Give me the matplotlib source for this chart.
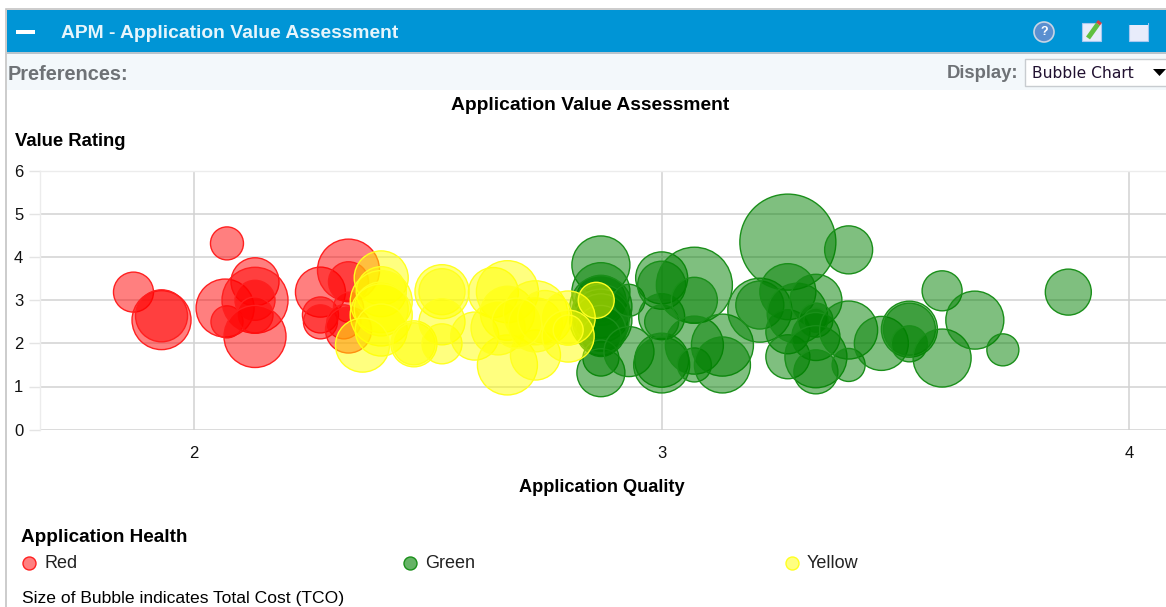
import matplotlib
matplotlib.use("Agg")
import matplotlib.pyplot as plt
from matplotlib.patches import Rectangle, Circle, Polygon

plt.rcParams['font.family'] = ['Liberation Sans', 'DejaVu Sans']

# datos: calidad, valor, tamano (coste total)
red_x = [1.87, 1.93, 1.93, 2.07, 2.066, 2.07, 2.13, 2.13, 2.13, 2.13, 2.13,
         2.27, 2.27, 2.27, 2.33, 2.33, 2.33, 2.32, 2.33]
red_y = [3.19, 2.54, 2.64, 4.32, 2.82, 2.5, 3.43, 3.0, 3.0, 2.66, 2.16,
         3.19, 2.66, 2.5, 3.7, 3.43, 2.84, 2.5, 2.31]
red_size = [20, 29.5, 26, 16.5, 29, 16, 24, 33, 20, 18, 31,
            25, 18, 17, 31, 20, 15, 17, 23]

green_x = [2.87, 2.87, 2.87, 2.87, 2.87, 2.87, 2.87, 2.87, 2.87, 2.87, 2.87,
           2.93, 2.93,
           3.0, 3.0, 3.0, 3.0, 3.0, 3.0, 3.07, 3.07, 3.07, 3.07,
           3.13, 3.13, 3.21, 3.21, 3.27, 3.27, 3.27, 3.27, 3.29,
           3.33, 3.33, 3.33, 3.33, 3.33, 3.33, 3.40, 3.40, 3.40, 3.47,
           3.53, 3.53, 3.53, 3.6, 3.6, 3.67, 3.73, 3.87]
green_y = [3.82, 3.2, 3.0, 2.85, 2.7, 2.54, 2.5, 2.3, 2.16, 1.66, 1.32,
           3.0, 1.81,
           3.52, 3.35, 2.62, 2.5, 1.61, 1.5, 3.35, 3.0, 1.96, 1.5,
           1.96, 1.5, 2.77, 2.89, 4.35, 3.2, 2.27, 1.69, 2.7,
           3.0, 2.54, 2.54, 2.16, 1.69, 1.34, 4.17, 2.31, 1.5, 2.0,
           2.33, 2.33, 1.99, 1.66, 3.22, 2.54, 1.85, 3.19]
green_size = [29, 29, 25, 31, 29, 31, 28, 25, 20, 18, 24,
              16, 25,
              26, 24, 23, 17, 27, 28, 38, 23, 29, 17,
              31, 28, 32, 24, 48, 28, 22, 22, 30,
              26, 17, 12, 24, 31, 22, 24, 29, 16.5, 27,
              28, 26, 18, 29, 20, 29, 16, 23]

yellow_x = [2.40, 2.40, 2.40, 2.40, 2.40, 2.40, 2.36, 2.47, 2.47, 2.53, 2.53, 2.53, 2.53,
            2.6, 2.64, 2.67, 2.67, 2.67, 2.65, 2.73, 2.73, 2.73, 2.75, 2.69, 2.8, 2.8, 2.8, 2.86]
yellow_y = [3.52, 3.2, 2.97, 2.8, 2.66, 2.31, 1.96, 1.99, 1.99, 3.2, 3.2, 2.5, 1.99,
            2.17, 3.18, 3.2, 2.7, 1.5, 2.36, 1.73, 2.71, 2.43, 2.6, 2.47, 2.59, 2.17, 2.31, 3.0]
yellow_size = [27, 25, 31, 27, 31, 26, 27, 23, 21, 27, 23, 23, 20,
               24, 25, 31, 27, 30, 27, 25, 32, 27, 27, 25, 27, 26, 15, 18]

x_ticks = [2, 3, 4]
y_ticks = [0, 1, 2, 3, 4, 5, 6]
legend_labels = ['Red', 'Green', 'Yellow']


# radio en pixeles a area de scatter en puntos^2
def area(radios):
    return [(2 * r * 0.72) ** 2 for r in radios]


fig = plt.figure(figsize=(11.66, 6.07), dpi=100, facecolor='white')

# marco de la pagina en coordenadas de pixel
page = fig.add_axes([0, 0, 1, 1], zorder=0)
page.set_xlim(0, 1166)
page.set_ylim(607, 0)
page.axis('off')
page.add_patch(Rectangle((6, 9), 1162, 600, fc='white', ec='#c4c4c4', lw=1.2))
page.add_patch(Rectangle((7, 10), 1159, 43, fc='#0095d6', ec='none'))
page.add_patch(Rectangle((7, 52), 1159, 1.5, fc='#b8c4cc', ec='none'))
page.add_patch(Rectangle((7, 54), 1159, 36, fc='#f3f8fb', ec='none'))
page.add_patch(Rectangle((16, 29.5), 19, 4.5, fc='white', ec='none'))
page.text(61, 33, 'APM - Application Value Assessment', color='#e6f5fc', fontsize=13.9,
          fontweight='bold', va='center')
page.text(8, 74, 'Preferences:', color='#6e7276', fontsize=14.4, fontweight='bold', va='center')
page.text(1018, 74, 'Display:', color='#6e7276', fontsize=13.3, fontweight='bold', va='center', ha='right')
page.add_patch(Rectangle((1025, 58.5), 143, 27, fc='white', ec='#c8ccd0', lw=1))
page.text(1032, 73, 'Bubble Chart', color='#201030', fontsize=11.2, va='center', family='DejaVu Sans')
page.add_patch(Polygon([(1153, 69), (1166, 69), (1159.5, 76)], fc='black', ec='none'))

# iconos de la barra
page.add_patch(Circle((1044, 32), 10, fc='#5a8fd0', ec='#c8d4e4', lw=1.2))
page.text(1044, 32, '?', color='white', fontsize=9, fontweight='bold', ha='center', va='center')
page.add_patch(Rectangle((1082, 23), 19, 18, fc='#e8ecfb', ec='#a8c8f0', lw=0.8))
page.plot([1088, 1098], [38, 24], color='#60c040', lw=3.5, solid_capstyle='butt')
page.plot([1098, 1100], [24, 21.5], color='#d84040', lw=3.5, solid_capstyle='butt')
page.add_patch(Rectangle((1129, 23), 19, 18, fc='#e8ecfb', ec='#a8c8f0', lw=0.8))
page.add_patch(Rectangle((1129, 22), 19, 3, fc='#0095d6', ec='none'))

# textos del grafico
page.text(590, 106, 'Application Value Assessment', fontsize=13.9, fontweight='bold', ha='center', va='center')
page.text(15, 142, 'Value Rating', fontsize=13.3, fontweight='bold', va='center')
page.text(602, 488, 'Application Quality', fontsize=13.1, fontweight='bold', ha='center', va='center')
page.text(21, 537, 'Application Health', fontsize=13.6, fontweight='bold', va='center')
page.text(22, 598, 'Size of Bubble indicates Total Cost (TCO)', fontsize=12.6, va='center')

# leyenda
legend_colors = [('#ff2020', '#ff8080'), ('#1a8f1a', '#66b366'), ('#ffff20', '#ffff80')]
for lab, lx, (edge, fill) in zip(legend_labels, [29, 410, 792], legend_colors):
    page.scatter([lx], [563], s=area([6.5]), color=fill, edgecolors=edge, linewidths=1.0)
    page.text(lx + 15, 564, lab, fontsize=13, color='#222222', va='center')

# area del grafico
ax = fig.add_axes([40 / 1166, (607 - 429.6) / 607, (1166 - 40) / 1166, 258.6 / 607], zorder=1)
ax.patch.set_alpha(0)
ax.set_xlim(1.67, 4.079)
ax.set_ylim(0, 6)
ax.set_xticks(x_ticks)
ax.set_yticks(y_ticks)
ax.tick_params(length=0, labelsize=12, colors='#111111')
ax.tick_params(axis='x', pad=12)
ax.tick_params(axis='y', pad=12)
ax.grid(True, color='#d2d2d2', lw=1.1)
ax.set_axisbelow(True)
for nombre, sp in ax.spines.items():
    sp.set_visible(nombre in ('left', 'top'))
    sp.set_color('#ececec')
    sp.set_linewidth(1)
ax.hlines(y_ticks, 1.647, 1.67, color='#e4e4e4', lw=1, clip_on=False)

ax.scatter(red_x, red_y, s=area(red_size), color='#ff000080', edgecolors='#ff2020', linewidths=1.0, clip_on=False)
ax.scatter(green_x, green_y, s=area(green_size), color='#00800080', edgecolors='#1a8f1a', linewidths=1.0, clip_on=False)
ax.scatter(yellow_x, yellow_y, s=area(yellow_size), color='#ffff0080', edgecolors='#ffff20', linewidths=1.0, clip_on=False)

fig.savefig('out.png', dpi=100)
